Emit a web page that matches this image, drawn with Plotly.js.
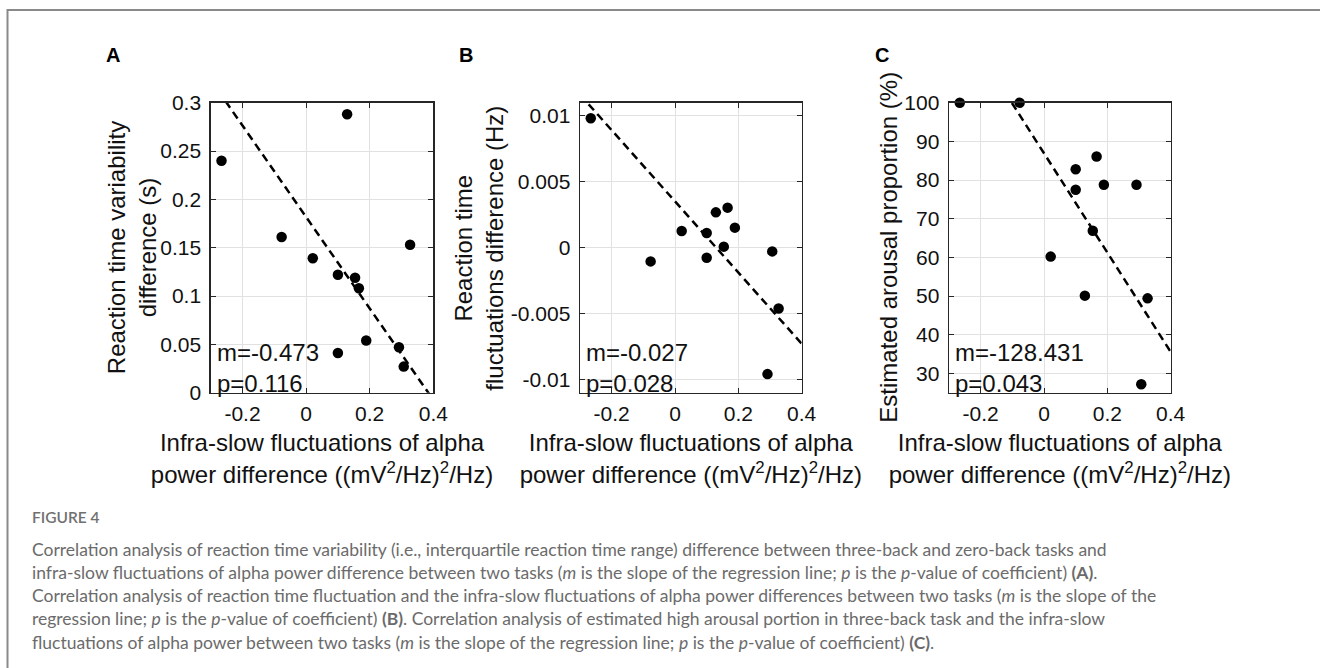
<!DOCTYPE html>
<html>
<head>
<meta charset="utf-8">
<script src="https://cdn.plot.ly/plotly-3.0.1.min.js"></script>
<style>
  html, body { margin: 0; padding: 0; background: #ffffff; }
  #chart { width: 1320px; height: 668px; }
</style>
</head>
<body>
<div id="chart"></div>
<script>
// ---- Data ----
const alphaPowerDiff = [-0.266, -0.077, 0.021, 0.100, 0.100, 0.129, 0.154, 0.166, 0.189, 0.292, 0.307, 0.327];
const rtVariabilityDiff = [0.240, 0.161, 0.139, 0.122, 0.041, 0.288, 0.119, 0.108, 0.054, 0.047, 0.027, 0.153];
const rtFluctuationDiff = [0.00982, -0.00104, 0.00127, 0.00111, -0.00076, 0.00268, 0.00008, 0.00304, 0.00152, -0.00959, -0.00028, -0.00461];
const arousalProportion = [100, 100, 60.2, 82.8, 77.5, 50.1, 66.9, 86.1, 78.8, 78.8, 27.2, 49.4];

const panelLabels = ['A', 'B', 'C'];
const slopes = [-0.473, -0.027, -128.431];
const slopeLabels = ['-0.473', '-0.027', '-128.431'];
const pValueLabels = ['0.116', '0.028', '0.043'];

const xTickVals = [-0.2, 0, 0.2, 0.4];
const xTickText = ['-0.2', '0', '0.2', '0.4'];
const yTickValsA = [0, 0.05, 0.1, 0.15, 0.2, 0.25, 0.3];
const yTickTextA = ['0', '0.05', '0.1', '0.15', '0.2', '0.25', '0.3'];
const yTickValsB = [-0.01, -0.005, 0, 0.005, 0.01];
const yTickTextB = ['-0.01', '-0.005', '0', '0.005', '0.01'];
const yTickValsC = [30, 40, 50, 60, 70, 80, 90, 100];
const yTickTextC = ['30', '40', '50', '60', '70', '80', '90', '100'];

const xTitle = 'Infra-slow fluctuations of alpha<br>power difference ((mV<sup>2</sup>/Hz)<sup>2</sup>/Hz)';
const yTitles = [
  'Reaction time variability<br>difference (s)',
  'Reaction time<br>fluctuations difference (Hz)',
  'Estimated arousal proportion (%)'
];

const figureLabel = 'FIGURE 4';
const captionLines = [
  'Correlation analysis of reaction time variability (i.e., interquartile reaction time range) difference between three-back and zero-back tasks and',
  'infra-slow fluctuations of alpha power difference between two tasks (<i>m</i> is the slope of the regression line; <i>p</i> is the <i>p</i>-value of coefficient) <b>(A)</b>.',
  'Correlation analysis of reaction time fluctuation and the infra-slow fluctuations of alpha power differences between two tasks (<i>m</i> is the slope of the',
  'regression line; <i>p</i> is the <i>p</i>-value of coefficient) <b>(B)</b>. Correlation analysis of estimated high arousal portion in three-back task and the infra-slow',
  'fluctuations of alpha power between two tasks (<i>m</i> is the slope of the regression line; <i>p</i> is the <i>p</i>-value of coefficient) <b>(C)</b>.'
];

// ---- Build ----
const W = 1320, H = 668;
const px = v => v / W;
const py = v => 1 - v / H;

const seriesY = [rtVariabilityDiff, rtFluctuationDiff, arousalProportion];
const xRange = [-0.3, 0.4];
const yRanges = [[0, 0.3], [-0.011, 0.011], [25, 100]];
const yTicks = [[yTickValsA, yTickTextA], [yTickValsB, yTickTextB], [yTickValsC, yTickTextC]];
const domainsX = [[210.7, 433.3], [580, 801.7], [949, 1170.7]];
const domainY = [py(392.7), py(102.7)];
const yTitleX = [131.5, 479, 889];

const mean = a => a.reduce((s, v) => s + v, 0) / a.length;
const FONT = '"Liberation Sans", Arial, Helvetica, sans-serif';
const AXC = '#262626';

const traces = [];
const layout = {
  width: W, height: H,
  margin: {l: 0, r: 0, t: 0, b: 0},
  paper_bgcolor: '#ffffff',
  plot_bgcolor: '#ffffff',
  showlegend: false,
  font: {family: FONT, color: '#000000'},
  annotations: [],
  shapes: [{
    type: 'path', xref: 'paper', yref: 'paper',
    path: `M ${px(7.5)} ${py(668)} L ${px(7.5)} ${py(10)} L ${px(1320)} ${py(10)}`,
    line: {color: '#8a8a8a', width: 2}
  }]
};

for (let i = 0; i < 3; i++) {
  const sfx = i === 0 ? '' : String(i + 1);
  const xa = 'x' + sfx, ya = 'y' + sfx;
  const ys = seriesY[i];
  const m = slopes[i];
  const b = mean(ys) - m * mean(alphaPowerDiff);
  const lineX = xRange.slice();
  const lineY = lineX.map(x => b + m * x);

  traces.push({
    type: 'scatter', mode: 'lines', x: lineX, y: lineY, xaxis: xa, yaxis: ya,
    line: {color: '#000000', width: 2.5, dash: '8px,5px'}, hoverinfo: 'skip'
  });
  traces.push({
    type: 'scatter', mode: 'markers', x: alphaPowerDiff, y: ys, xaxis: xa, yaxis: ya,
    marker: {color: '#000000', size: 10.5}, cliponaxis: false
  });

  const commonAx = {
    showline: true, mirror: 'ticks', linecolor: AXC, linewidth: 1.4,
    ticks: 'inside', ticklen: 5, tickwidth: 1, tickcolor: AXC,
    showgrid: true, gridcolor: '#e1e1e1', gridwidth: 1,
    zeroline: false, tickfont: {family: FONT, size: 21, color: '#111111'},
    fixedrange: true
  };
  layout['xaxis' + sfx] = Object.assign({}, commonAx, {
    domain: [px(domainsX[i][0]), px(domainsX[i][1])],
    anchor: ya, range: xRange, tickmode: 'array', tickvals: xTickVals, ticktext: xTickText,
    ticklabelstandoff: 2,
    title: {text: xTitle, font: {family: FONT, size: 24, color: '#111111'}, standoff: 10}
  });
  layout['yaxis' + sfx] = Object.assign({}, commonAx, {
    domain: domainY, anchor: xa, range: yRanges[i],
    tickmode: 'array', tickvals: yTicks[i][0], ticktext: yTicks[i][1],
    ticklabelstandoff: 4
  });

  // y-axis title, placed as rotated text beside the axis
  layout.annotations.push({
    xref: 'paper', yref: ya + ' domain', x: px(yTitleX[i]), y: 0.5,
    xanchor: 'center', yanchor: 'middle', textangle: -90, showarrow: false,
    text: yTitles[i], font: {family: FONT, size: 24, color: '#111111'}
  });

  layout.annotations.push({
    xref: xa + ' domain', yref: ya + ' domain', x: 0, y: 0, xanchor: 'left', yanchor: 'bottom',
    xshift: 4, yshift: -6, align: 'left', showarrow: false,
    text: 'm=' + slopeLabels[i] + '<br>p=' + pValueLabels[i],
    font: {family: FONT, size: 24, color: '#111111'}
  });
}

const labelX = [113, 466, 882];
panelLabels.forEach((t, i) => {
  layout.annotations.push({
    xref: 'paper', yref: 'paper', x: px(labelX[i]), y: py(55), xanchor: 'center', yanchor: 'middle',
    showarrow: false, text: '<b>' + t + '</b>', font: {family: FONT, size: 20, color: '#000000'}
  });
});

const CAPFONT = 'Lato, "Open Sans", sans-serif';
layout.annotations.push({
  xref: 'paper', yref: 'paper', x: px(30), y: py(517), xanchor: 'left', yanchor: 'middle',
  showarrow: false, text: figureLabel, font: {family: CAPFONT, size: 15.5, weight: 600, color: '#707070'}
});
captionLines.forEach((t, i) => {
  layout.annotations.push({
    xref: 'paper', yref: 'paper', x: px(30), y: py(549 + i * 23.33), xanchor: 'left', yanchor: 'middle',
    showarrow: false, text: t, font: {family: CAPFONT, size: 17.5, color: '#6b6b6b'}
  });
});

Plotly.newPlot('chart', traces, layout, {displayModeBar: false, staticPlot: true});
</script>
</body>
</html>
